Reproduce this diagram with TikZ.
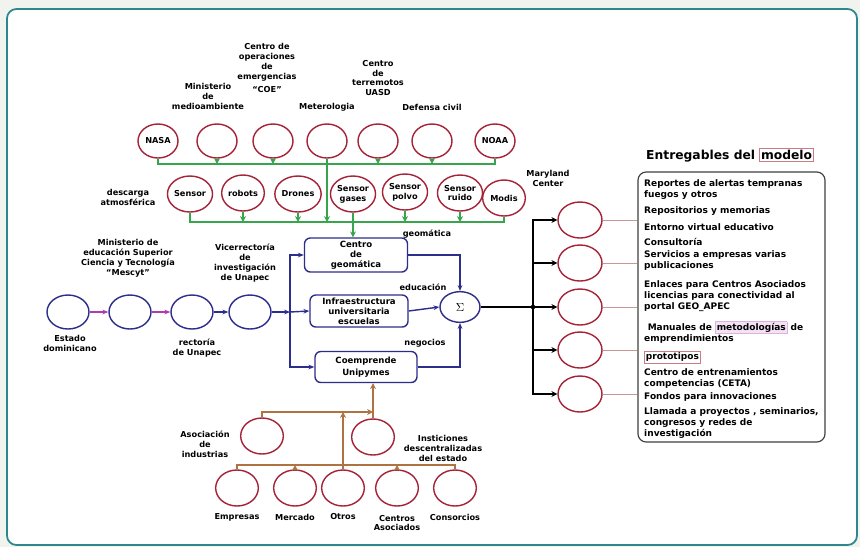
\documentclass[tikz,border=0pt]{standalone}
\usepackage{fontspec}
\setmainfont{DejaVu Sans}
\usetikzlibrary{arrows.meta,positioning,shapes.geometric,calc}
\definecolor{circred}{RGB}{165,35,55}
\definecolor{navyb}{RGB}{45,45,140}
\definecolor{grnline}{RGB}{55,165,75}
\definecolor{brnline}{RGB}{175,115,65}
\definecolor{magline}{RGB}{175,60,175}
\definecolor{frameteal}{RGB}{45,135,140}
\definecolor{pagebg}{RGB}{241,243,239}
\definecolor{thinline}{RGB}{200,150,150}
\setlength{\fboxsep}{1pt}
\newcommand{\lblfont}{\fontsize{7}{8.5}\selectfont\bfseries}
\tikzset{
  redcirc/.style = {ellipse, draw=circred, line width=1.2pt, minimum width=1.2cm, minimum height=1.02cm, inner sep=0pt, font=\lblfont, align=center},
  bigred/.style = {redcirc, minimum width=1.28cm, minimum height=1.08cm},
  bluecirc/.style = {ellipse, draw=navyb, line width=1.2pt, minimum width=1.26cm, minimum height=1.02cm, inner sep=0pt},
  bluebox/.style = {draw=navyb, rounded corners=5pt, line width=1.2pt, font=\fontsize{7.3}{8.5}\selectfont\bfseries, align=center, inner sep=1pt},
  lbl/.style = {font=\lblfont, align=center, inner sep=0pt},
  greenedge/.style = {draw=grnline, line width=1.3pt},
  greenarrow/.style = {greenedge, -{Stealth[length=5pt,width=5pt]}},
  blueedge/.style = {draw=navyb, line width=1.2pt, -{Stealth[length=5pt,width=4pt]}},
  magedge/.style = {draw=magline, line width=1.2pt, -{Stealth[length=5pt,width=4pt]}},
  brownedge/.style = {draw=brnline, line width=1.3pt},
  brownarrow/.style = {brownedge, -{Stealth[length=5pt,width=5pt]}},
  blackedge/.style = {draw=black, line width=1.3pt},
  blackarrow/.style = {blackedge, -{Stealth[length=5pt,width=5pt]}},
  listline/.style = {draw=thinline, line width=0.6pt},
}

\begin{document}
\begin{tikzpicture}[x=0.03cm, y=-0.03cm]
\useasboundingbox (0,0) rectangle (860,547);

% frame
\fill[pagebg] (0,0) rectangle (860,547);
\draw[frameteal, line width=1.5pt, fill=white, rounded corners=8pt] (7,9) rectangle (857,545);

% top row of sources
\node[redcirc] (t1) at (158,141) {NASA};
\node[redcirc] (t2) at (217,141) {};
\node[redcirc] (t3) at (273,141) {};
\node[redcirc] (t4) at (327,141) {};
\node[redcirc] (t5) at (378,141) {};
\node[redcirc] (t6) at (432,141) {};
\node[redcirc] (t7) at (495,141) {NOAA};
\node[lbl] at (208,96) {Ministerio\\de\\medioambiente};
\node[lbl] at (267,68) {Centro de\\operaciones\\de\\emergencias\\[2pt]``COE''};
\node[lbl] at (327,107) {Meterologia};
\node[lbl] at (378,78) {Centro\\de\\terremotos\\UASD};
\node[lbl] at (432,107) {Defensa civil};

% sensors
\node[bigred] (s1) at (190,194) {Sensor};
\node[bigred] (s2) at (243,193) {robots};
\node[bigred] (s3) at (298,194) {Drones};
\node[bigred] (s4) at (353,194) {Sensor\\gases};
\node[bigred] (s5) at (405,192) {Sensor\\polvo};
\node[bigred] (s6) at (460,193) {Sensor\\ruido};
\node[bigred] (s7) at (504,198) {Modis};
\node[lbl] at (128,197) {descarga\\atmosférica};
\node[lbl] at (548,178) {Maryland\\Center};
\node[lbl] at (427,234) {geomática};

% green buses
\coordinate (gb1) at (0,164);
\coordinate (gb2) at (0,222);
\draw[greenedge] (t1.south) -- (t1.south |- gb1) -- (t7.south |- gb1) -- (t7.south);
\draw[greenarrow] (t2.south) -- (t2.south |- gb1);
\draw[greenarrow] (t3.south) -- (t3.south |- gb1);
\draw[greenarrow] (t5.south) -- (t5.south |- gb1);
\draw[greenarrow] (t6.south) -- (t6.south |- gb1);
\draw[greenarrow] (t4.south) -- (t4.south |- gb2);
\draw[greenedge] (s1.south) -- (s1.south |- gb2) -- (s7.south |- gb2) -- (s7.south);
\draw[greenarrow] (s2.south) -- (s2.south |- gb2);
\draw[greenarrow] (s3.south) -- (s3.south |- gb2);
\draw[greenarrow] (s5.south) -- (s5.south |- gb2);
\draw[greenarrow] (s6.south) -- (s6.south |- gb2);

% institutional chain
\node[bluecirc] (e1) at (68,312) {};
\node[bluecirc] (e2) at (130,312) {};
\node[bluecirc] (e3) at (192,312) {};
\node[bluecirc] (e4) at (250,312) {};
\node[lbl] at (128,258) {Ministerio de\\educación Superior\\Ciencia y Tecnología\\``Mescyt''};
\node[lbl] at (245,263) {Vicerrectoría\\de\\investigación\\de Unapec};
\node[lbl] at (70,343) {Estado\\dominicano};
\node[lbl] at (197,348) {rectoría\\de Unapec};
\coordinate (jb) at (290,312);
\draw[magedge] (e1) -- (e2);
\draw[magedge] (e2) -- (e3);
\draw[blueedge] (e3) -- (e4);
\draw[blueedge] (e4) -- (jb);

% centres
\node[bluebox, minimum width=3.09cm, minimum height=1.02cm] (cg) at (356,255) {Centro\\de\\geomática};
\node[bluebox, minimum width=2.94cm, minimum height=0.96cm] (inf) at (359,311) {Infraestructura\\universitaria\\escuelas};
\node[bluebox, minimum width=3.06cm, minimum height=0.93cm] (coe) at (366,367) {Coemprende\\[2pt]Unipymes};
\node[bluecirc, minimum width=1.2cm, minimum height=0.92cm] (sig) at (460,307) {$\Sigma$};
\node[lbl] at (423,287) {educación};
\node[lbl] at (425,343) {negocios};
\draw[greenarrow] (s4.south) -- (s4.south |- cg.north);
\draw[blueedge] (jb) |- (cg.west);
\draw[blueedge] (jb) -- (inf.west);
\draw[blueedge] (jb) |- (coe.west);
\draw[blueedge] (cg.east) -| (sig.north);
\draw[blueedge] (inf.east) -- (sig.west);
\draw[blueedge] (coe.east) -| (sig.south);

% deliverables
\node[bigred, minimum width=1.32cm] (r1) at (580,220) {};
\node[bigred, minimum width=1.32cm] (r2) at (580,263) {};
\node[bigred, minimum width=1.32cm] (r3) at (580,307) {};
\node[bigred, minimum width=1.32cm] (r4) at (580,350) {};
\node[bigred, minimum width=1.32cm] (r5) at (580,394) {};
\coordinate (jk) at (533,307);
\draw[blackedge] (sig.east) -- (jk);
\fill (jk) circle (2pt);
\draw[blackarrow] (jk) |- (r1.west);
\draw[blackarrow] (jk) |- (r2.west);
\draw[blackarrow] (jk) -- (r3.west);
\draw[blackarrow] (jk) |- (r4.west);
\draw[blackarrow] (jk) |- (r5.west);

\node[draw=black!75, line width=1pt, rounded corners=7pt, minimum width=5.61cm, minimum height=8.1cm] (lista) at (731.5,307) {};
\node[font=\fontsize{10.5}{12}\selectfont\bfseries, inner sep=0pt] (titulo) at (730,155) {Entregables del \fcolorbox{circred!60}{white}{modelo}};
\draw[listline] (r1.east) -- (r1.east -| lista.west);
\draw[listline] (r2.east) -- (r2.east -| lista.west);
\draw[listline] (r3.east) -- (r3.east -| lista.west);
\draw[listline] (r4.east) -- (r4.east -| lista.west);
\draw[listline] (r5.east) -- (r5.east -| lista.west);
\node[anchor=north west, font=\fontsize{7.7}{9.5}\selectfont\bfseries, align=left, inner sep=0pt] (items) at (644,179) {%
Reportes de alertas tempranas\\
fuegos y otros\\[4.6pt]
Repositorios y memorias\\[4.6pt]
Entorno virtual educativo\\[3.2pt]
Consultoría\\[1.2pt]
Servicios a empresas varias\\
publicaciones\\[6.4pt]
Enlaces para Centros Asociados\\
licencias para conectividad al\\
portal GEO\_APEC\\[8pt]
\hspace*{3pt}Manuales de \fcolorbox{magline!40}{magline!15}{metodologías} de\\
emprendimientos\\[6.2pt]
\fcolorbox{circred!60}{white}{prototipos}\\[3.6pt]
Centro de entrenamientos\\
competencias (CETA)\\[1.8pt]
Fondos para innovaciones\\[3.2pt]
Llamada a proyectos , seminarios,\\
congresos y redes de\\
investigación};

% bottom sources
\node[bigred] (aso) at (262,436) {};
\node[bigred] (ins) at (373,437) {};
\node[bigred] (emp) at (237,488) {};
\node[bigred] (mer) at (295,488) {};
\node[bigred] (otr) at (343,488) {};
\node[bigred] (cas) at (397,488) {};
\node[bigred] (con) at (455,488) {};
\node[lbl] at (205,444) {Asociación\\de\\industrias};
\node[lbl] at (443,448) {Insticiones\\descentralizadas\\del estado};
\node[lbl] at (237,517) {Empresas};
\node[lbl] at (295,517) {Mercado};
\node[lbl] at (343,517) {Otros};
\node[lbl] at (397,523) {Centros\\Asociados};
\node[lbl] at (455,517) {Consorcios};
\coordinate (bb1) at (0,412);
\coordinate (bb2) at (0,465);
\draw[brownarrow] (ins.north) -- (ins.north |- coe.south);
\draw[brownarrow] (aso.north) |- (ins.north |- bb1);
\draw[brownarrow] (otr.north) -- (otr.north |- bb1);
\draw[brownedge] (emp.north) -- (emp.north |- bb2) -- (con.north |- bb2) -- (con.north);
\draw[brownarrow] (mer.north) -- (mer.north |- bb2);
\draw[brownarrow] (cas.north) -- (cas.north |- bb2);

\end{tikzpicture}
\end{document}
